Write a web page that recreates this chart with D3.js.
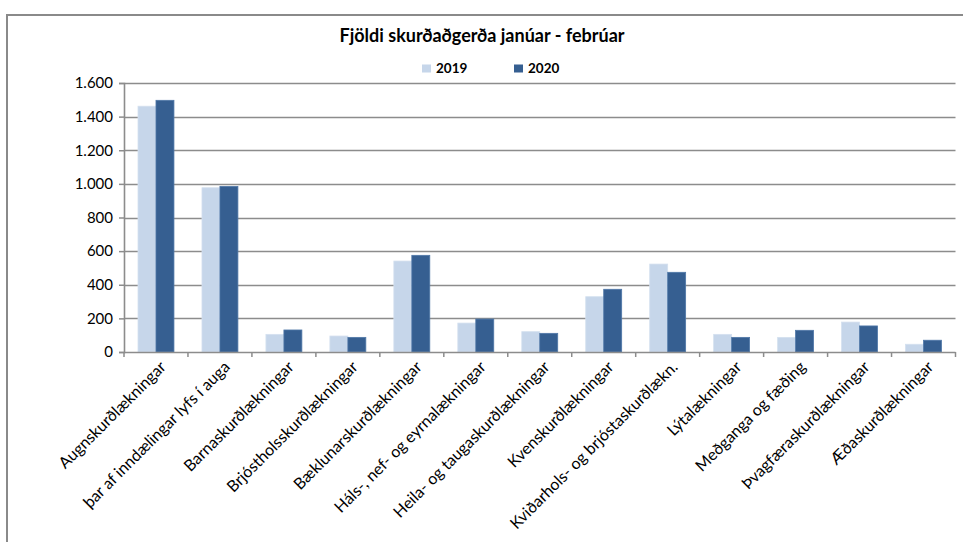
<!DOCTYPE html>
<html>
<head>
<meta charset="utf-8">
<script src="https://cdn.jsdelivr.net/npm/d3@7"></script>
<style>
html,body{margin:0;padding:0;background:#fff;}
svg{display:block;}
text{font-family:Lato, "Open Sans", sans-serif;fill:#000;}
</style>
</head>
<body>
<svg id="chart" width="963" height="542"></svg>
<script>
const categories = [
  "Augnskurðlækningar",
  "þar af inndælingar lyfs í auga",
  "Barnaskurðlækningar",
  "Brjóstholsskurðlækningar",
  "Bæklunarskurðlækningar",
  "Háls-, nef- og eyrnalækningar",
  "Heila- og taugaskurðlækningar",
  "Kvenskurðlækningar",
  "Kviðarhols- og brjóstaskurðlækn.",
  "Lýtalækningar",
  "Meðganga og fæðing",
  "Þvagfæraskurðlækningar",
  "Æðaskurðlækningar"
];
const series2019 = [1462, 977, 105, 95, 541, 172, 121, 329, 523, 105, 87, 178, 46];
const series2020 = [1497, 985, 131, 87, 575, 196, 111, 373, 474, 87, 129, 155, 70];
const seriesNames = ["2019", "2020"];
const yTicks = [0, 200, 400, 600, 800, 1000, 1200, 1400, 1600];
const title = "Fjöldi skurðaðgerða janúar - febrúar";

(function () {
const colors = ["#c6d6ea", "#365f91"];
const svg = d3.select("#chart");
const pLeft = 124, pRight = 955.5, pTop = 83, pBottom = 352;

// outer frame
svg.append("rect").attr("x", 7).attr("y", 15).attr("width", 970).attr("height", 540)
  .attr("fill", "none").attr("stroke", "#8a8a8a").attr("stroke-width", 2);

const x = d3.scaleBand().domain(categories).range([pLeft, pRight]).paddingInner(0).paddingOuter(0);
const x1 = d3.scaleBand().domain(seriesNames).range([0, x.bandwidth()]).paddingInner(0).paddingOuter(0.78);
const y = d3.scaleLinear().domain([0, 1600]).range([pBottom, pTop]);

// gridlines
svg.append("g").selectAll("line").data(yTicks.filter(d => d > 0)).join("line")
  .attr("x1", pLeft).attr("x2", pRight)
  .attr("y1", d => Math.round(y(d)) + 0.5).attr("y2", d => Math.round(y(d)) + 0.5)
  .attr("stroke", "#8c8c8c").attr("stroke-width", 1.6);

// bars
const data = categories.map((c, i) => ({c, vals: [series2019[i], series2020[i]]}));
const g = svg.append("g");
data.forEach(d => {
  d.vals.forEach((v, j) => {
    g.append("rect")
      .attr("x", x(d.c) + x1(seriesNames[j]))
      .attr("y", y(v))
      .attr("width", x1.bandwidth())
      .attr("height", y(0) - y(v))
      .attr("fill", colors[j])
      .attr("stroke", j === 0 ? "#d4e0ef" : "#5078a8")
      .attr("stroke-width", 0.8);
  });
});

// y axis
const yAxis = d3.axisLeft(y).tickValues(yTicks).tickSize(5).tickPadding(6)
  .tickFormat(d => d3.format(",")(d).replace(/,/g, "."));
const ya = svg.append("g").attr("transform", `translate(${pLeft},0)`).call(yAxis);
ya.select(".domain").attr("stroke", "#8c8c8c").attr("stroke-width", 1.6);
ya.selectAll(".tick line").attr("stroke", "#8c8c8c").attr("stroke-width", 1.5);
ya.selectAll(".tick text").attr("font-size", 15).attr("font-family", "Lato, sans-serif").attr("fill", "#000");

// x axis
const xa = svg.append("g").attr("transform", `translate(0,${pBottom})`);
xa.append("line").attr("x1", pLeft).attr("x2", pRight).attr("y1", 0.5).attr("y2", 0.5)
  .attr("stroke", "#8c8c8c").attr("stroke-width", 1.6);
const tickPos = categories.map(c => x(c)).concat([pRight]);
xa.selectAll("line.t").data(tickPos).join("line").attr("class", "t")
  .attr("x1", d => d).attr("x2", d => d).attr("y1", 0).attr("y2", 5)
  .attr("stroke", "#8c8c8c").attr("stroke-width", 1.5);
xa.selectAll("text").data(categories).join("text")
  .attr("transform", d => `translate(${x(d) + x.bandwidth() / 2 + 7},${12}) rotate(-45)`)
  .attr("text-anchor", "end")
  .attr("dy", "0.35em")
  .attr("font-size", 16)
  .text(d => d);

// title
svg.append("text").attr("x", 482).attr("y", 42).attr("text-anchor", "middle")
  .attr("font-size", 18).attr("font-weight", "bold").text(title);

// legend
const lg = svg.append("g");
const legX = [422, 514];
seriesNames.forEach((s, i) => {
  lg.append("rect").attr("x", legX[i]).attr("y", 64.5).attr("width", 9).attr("height", 8).attr("fill", colors[i]);
  lg.append("text").attr("x", legX[i] + 14).attr("y", 73).attr("font-size", 13.5)
    .attr("font-weight", "bold").text(s);
});
})();
</script>
</body>
</html>
